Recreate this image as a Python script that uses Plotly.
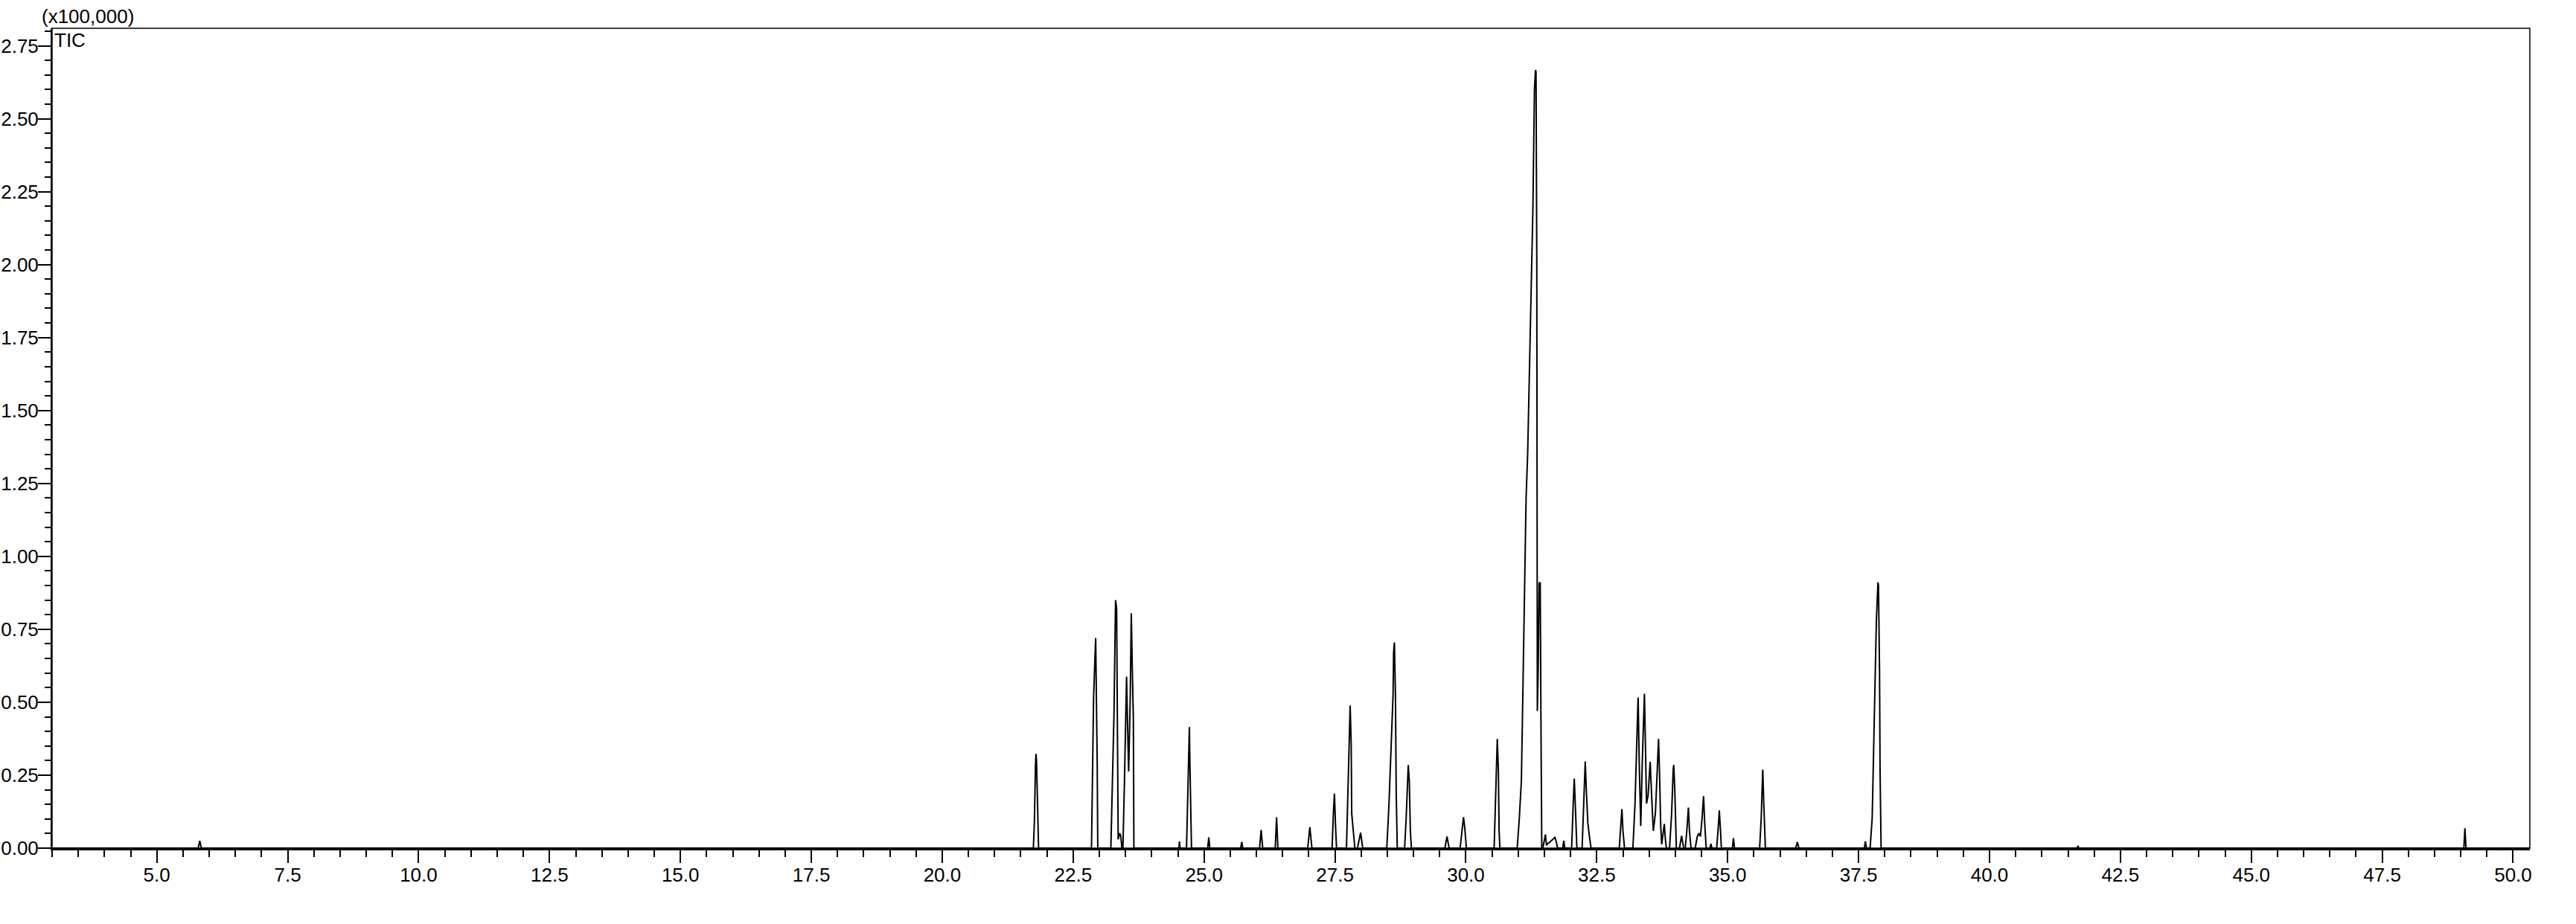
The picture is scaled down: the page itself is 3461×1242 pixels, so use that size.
import plotly.graph_objects as go

# Retention time (min) and TIC intensity (x100,000), vertices
time_min = [
    3.00, 5.79, 5.82, 5.85,
    21.74, 21.76, 21.78, 21.79, 21.80, 21.82, 21.84,
    22.85, 22.89, 22.91, 22.93, 22.96, 22.97,
    23.22, 23.25, 23.28, 23.30, 23.31, 23.33, 23.34, 23.36, 23.39, 23.41, 23.43,
    23.45, 23.48, 23.50, 23.52, 23.54, 23.56, 23.59, 23.61, 23.63, 23.65, 23.66,
    24.52, 24.53, 24.54,
    24.665, 24.69, 24.71, 24.72, 24.73, 24.745, 24.76,
    25.07, 25.09, 25.11,
    25.70, 25.72, 25.74,
    26.06, 26.09, 26.12,
    26.36, 26.385, 26.41,
    26.98, 27.02, 27.06,
    27.445, 27.47, 27.49, 27.51, 27.53,
    27.72, 27.75, 27.78, 27.79, 27.81, 27.82, 27.85, 27.88,
    27.93, 27.99, 28.03,
    28.49, 28.53, 28.57, 28.61, 28.62, 28.635, 28.655, 28.67, 28.69,
    28.83, 28.86, 28.89, 28.90, 28.92, 28.94, 28.96,
    29.60, 29.64, 29.68,
    29.89, 29.93, 29.955, 29.98, 30.01,
    30.54, 30.565, 30.59, 30.60, 30.62, 30.635, 30.65,
    30.98, 31.02, 31.06, 31.08, 31.10, 31.12, 31.15, 31.18, 31.23, 31.28, 31.31, 31.33, 31.34,
    31.355, 31.365, 31.38, 31.40, 31.42, 31.435, 31.45,
    31.47, 31.50, 31.52, 31.54, 31.56, 31.60, 31.66, 31.70, 31.73, 31.75,
    31.85, 31.87, 31.89,
    32.02, 32.05, 32.07, 32.09, 32.12,
    32.22, 32.25, 32.28, 32.30, 32.33, 32.36, 32.39,
    32.93, 32.96, 32.98, 33.00, 33.03,
    33.19, 33.23, 33.27, 33.29, 33.31, 33.34, 33.37, 33.40, 33.41, 33.43, 33.45, 33.48,
    33.52, 33.55, 33.58, 33.62, 33.66, 33.68, 33.70, 33.72, 33.74, 33.77, 33.79, 33.81, 33.83,
    33.89, 33.93, 33.96, 33.97, 33.99, 34.02,
    34.08, 34.12, 34.16,
    34.19, 34.22, 34.25, 34.27, 34.30,
    34.38, 34.42, 34.45, 34.48, 34.51, 34.54, 34.56, 34.59,
    34.66, 34.68, 34.70,
    34.79, 34.82, 34.84, 34.86, 34.88,
    35.09, 35.11, 35.13,
    35.61, 35.64, 35.66, 35.67, 35.69, 35.72,
    36.30, 36.33, 36.36,
    37.61, 37.63, 37.65,
    37.72, 37.76, 37.78, 37.81, 37.84, 37.87, 37.88, 37.90, 37.91, 37.93,
    41.67, 41.69, 41.71,
    49.06, 49.08, 49.10,
    50.32,
]
tic_x1e5 = [
    0.0, 0.0, 0.025, 0.0,
    0.0, 0.09, 0.28, 0.323, 0.30, 0.10, 0.0,
    0.0, 0.51, 0.62, 0.72, 0.28, 0.0,
    0.0, 0.246, 0.459, 0.722, 0.85, 0.823, 0.595, 0.03, 0.051, 0.042, 0.0,
    0.0, 0.229, 0.399, 0.588, 0.416, 0.263, 0.510, 0.805, 0.612, 0.442, 0.0,
    0.0, 0.023, 0.0,
    0.0, 0.229, 0.365, 0.415, 0.289, 0.10, 0.0,
    0.0, 0.037, 0.0,
    0.0, 0.021, 0.0,
    0.0, 0.062, 0.0,
    0.0, 0.106, 0.0,
    0.0, 0.072, 0.0,
    0.0, 0.12, 0.187, 0.08, 0.0,
    0.0, 0.229, 0.442, 0.489, 0.357, 0.119, 0.059, 0.0,
    0.0, 0.053, 0.0,
    0.0, 0.144, 0.314, 0.527, 0.671, 0.705, 0.527, 0.187, 0.0,
    0.0, 0.102, 0.229, 0.285, 0.229, 0.059, 0.0,
    0.0, 0.040, 0.0,
    0.0, 0.076, 0.106, 0.068, 0.0,
    0.0, 0.187, 0.357, 0.374, 0.272, 0.059, 0.0,
    0.0, 0.10, 0.23, 0.44, 0.66, 0.95, 1.20, 1.35, 1.79, 2.19, 2.60, 2.667, 2.66,
    2.00, 0.47, 0.60, 0.909, 0.909, 0.40, 0.0,
    0.0, 0.03, 0.047, 0.01, 0.015, 0.02, 0.03, 0.037, 0.02, 0.0,
    0.0, 0.025, 0.0,
    0.0, 0.15, 0.238, 0.15, 0.0,
    0.0, 0.15, 0.297, 0.20, 0.085, 0.04, 0.0,
    0.0, 0.08, 0.134, 0.06, 0.0,
    0.0, 0.15, 0.40, 0.516, 0.30, 0.076, 0.30, 0.50, 0.529, 0.35, 0.153, 0.18,
    0.296, 0.17, 0.059, 0.12, 0.30, 0.374, 0.25, 0.08, 0.013, 0.05, 0.083, 0.03, 0.0,
    0.0, 0.12, 0.27, 0.285, 0.20, 0.0,
    0.0, 0.042, 0.0,
    0.0, 0.06, 0.139, 0.06, 0.0,
    0.0, 0.04, 0.051, 0.04, 0.10, 0.178, 0.09, 0.0,
    0.0, 0.015, 0.0,
    0.0, 0.07, 0.129, 0.07, 0.0,
    0.0, 0.034, 0.0,
    0.0, 0.10, 0.24, 0.269, 0.15, 0.0,
    0.0, 0.021, 0.0,
    0.0, 0.023, 0.0,
    0.0, 0.102, 0.272, 0.527, 0.781, 0.911, 0.90, 0.612, 0.272, 0.0,
    0.0, 0.006, 0.0,
    0.0, 0.068, 0.0,
    0.0,
]

FONT = "Liberation Sans, Arial, sans-serif"

fig = go.Figure()
fig.add_trace(go.Scatter(
    x=time_min, y=tic_x1e5, mode="lines",
    line=dict(color="black", width=2),
    showlegend=False, hoverinfo="skip",
))

fig.update_layout(
    width=3461, height=1242,
    margin=dict(l=70, r=62, t=38, b=102, autoexpand=False),
    paper_bgcolor="white", plot_bgcolor="white",
    font=dict(family=FONT, size=26, color="black"),
    xaxis=dict(
        range=[3.0, 50.32], tick0=5.0, dtick=2.5, tickformat=".1f",
        ticks="outside", ticklen=17, tickwidth=2, tickcolor="black",
        showline=True, linewidth=3, linecolor="black",
        showgrid=False, zeroline=False, automargin=False,
        minor=dict(tick0=3.0, dtick=0.5, ticks="outside", ticklen=9,
                   tickwidth=2, tickcolor="black", showgrid=False),
        tickfont=dict(family=FONT, size=26, color="black"),
        ticklabelstandoff=-6,
    ),
    yaxis=dict(
        range=[0, 2.81], tick0=0, dtick=0.25, tickformat=".2f",
        ticks="outside", ticklen=17, tickwidth=2, tickcolor="black",
        showline=True, linewidth=2, linecolor="black",
        showgrid=False, zeroline=False, automargin=False,
        minor=dict(tick0=0, dtick=0.05, ticks="outside", ticklen=8,
                   tickwidth=2, tickcolor="black", showgrid=False),
        tickfont=dict(family=FONT, size=26, color="black"),
        ticklabelstandoff=-6,
    ),
    shapes=[dict(type="rect", xref="paper", yref="paper", x0=0, y0=0, x1=1, y1=1,
                 line=dict(color="black", width=1.5), fillcolor="rgba(0,0,0,0)")],
    annotations=[
        dict(text="(x100,000)", xref="paper", yref="paper", x=-0.0045, y=1.0,
             xanchor="left", yanchor="bottom", showarrow=False, borderpad=0,
             font=dict(family=FONT, size=26, color="black")),
        dict(text="TIC", xref="paper", yref="paper", x=0.0006, y=1.0,
             xanchor="left", yanchor="top", showarrow=False, borderpad=0,
             font=dict(family=FONT, size=26, color="black")),
    ],
)

# remove the browser's default 8 px body margin so the figure fills the window
fig.write_html("out.html",
               config={"displayModeBar": False},
               post_script="document.body.style.margin='0';document.body.style.overflow='hidden';")
